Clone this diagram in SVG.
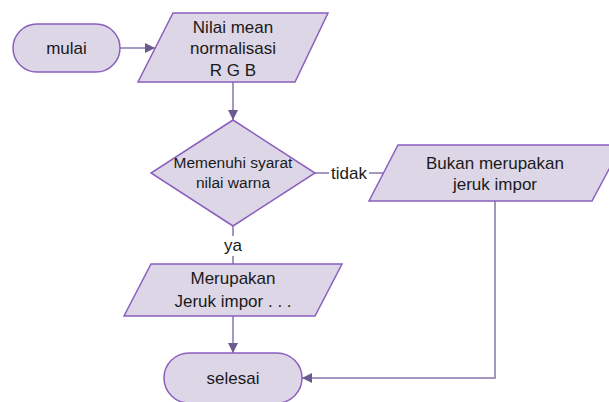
<svg xmlns="http://www.w3.org/2000/svg" width="609" height="402" viewBox="0 0 609 402">
<defs>
<style>
.shape{fill:#ddd6e7;stroke:#8b5fbd;stroke-width:1.5}
.conn{fill:none;stroke:#8676ab;stroke-width:1.5}
.t{font-family:"Liberation Sans",Arial,sans-serif;fill:#1a1a1a;text-anchor:middle}
.lbl{font-family:"Liberation Sans",Arial,sans-serif;fill:#1a1a1a;text-anchor:middle;font-size:17px}
</style>
<marker id="arr" viewBox="0 0 10 10" refX="10" refY="5" markerWidth="10" markerHeight="10" markerUnits="userSpaceOnUse" orient="auto">
<path d="M0,0 L10,5 L0,10 Z" fill="#6b5a92"/>
</marker>
</defs>
<rect width="609" height="402" fill="#ffffff"/>
<g id="connectors">
<line class="conn" x1="120" y1="48" x2="155" y2="48" marker-end="url(#arr)"/>
<line class="conn" x1="233" y1="82" x2="233" y2="120" marker-end="url(#arr)"/>
<line class="conn" x1="315" y1="173" x2="384" y2="173"/>
<line class="conn" x1="233" y1="226" x2="233" y2="264"/>
<line class="conn" x1="233" y1="316" x2="233" y2="353" marker-end="url(#arr)"/>
<polyline class="conn" points="495,201 495,378 302,378" marker-end="url(#arr)"/>
<rect x="329" y="163" width="40" height="20" fill="#ffffff"/>
<text class="lbl" x="349" y="179">tidak</text>
<rect x="220" y="236" width="26" height="20" fill="#ffffff"/>
<text class="lbl" x="233" y="251">ya</text>
</g>
<g id="mulai">
<rect class="shape" x="13" y="24" width="107" height="48" rx="24" ry="24"/>
<text class="t" x="66.5" y="54" font-size="17">mulai</text>
</g>
<g id="input-rgb">
<polygon class="shape" points="173,13 328,13 295,82 138,82"/>
<text class="t" x="233" y="33" font-size="17">Nilai mean</text>
<text class="t" x="233" y="54" font-size="17">normalisasi</text>
<text class="t" x="233" y="76" font-size="17">R G B</text>
</g>
<g id="decision">
<polygon class="shape" points="233,120 315,173 233,226 151,173"/>
<text class="t" x="233" y="168" font-size="15.5">Memenuhi syarat</text>
<text class="t" x="233" y="188" font-size="15.5">nilai warna</text>
</g>
<g id="bukan">
<polygon class="shape" points="398,145 622,145 592,201 369,201"/>
<text class="t" x="495" y="169" font-size="17">Bukan merupakan</text>
<text class="t" x="495" y="190" font-size="17">jeruk impor</text>
</g>
<g id="merupakan">
<polygon class="shape" points="151,264 342,264 315,316 124,316"/>
<text class="t" x="233" y="284" font-size="17">Merupakan</text>
<text class="t" x="233" y="307" font-size="17">Jeruk impor . . .</text>
</g>
<g id="selesai">
<rect class="shape" x="164" y="353" width="138" height="50" rx="25" ry="25"/>
<text class="t" x="233" y="384" font-size="17">selesai</text>
</g>
</svg>
